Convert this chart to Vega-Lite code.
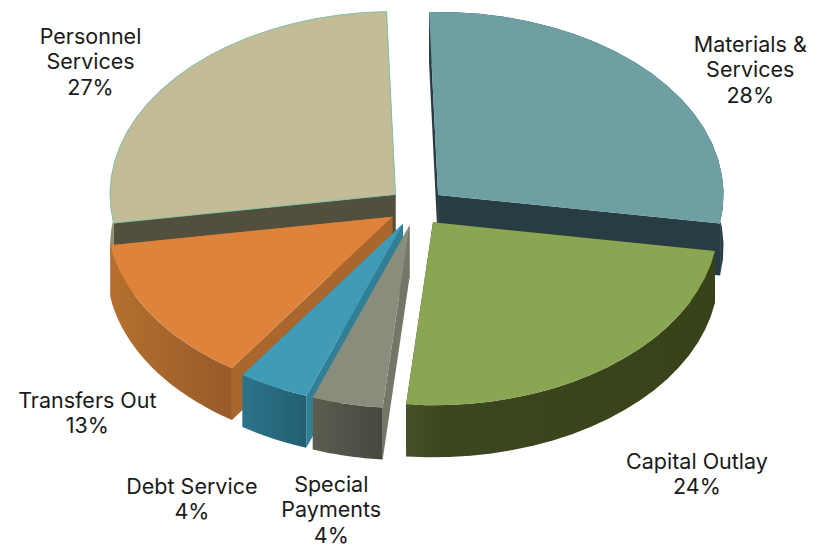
{
  "$schema": "https://vega.github.io/schema/vega-lite/v6.json",
  "width": 822,
  "height": 545,
  "padding": 0,
  "autosize": "none",
  "background": "#ffffff",
  "params": [
    {"name": "cx", "value": 416.5},
    {"name": "cy", "value": 207},
    {"name": "rx", "value": 285.5},
    {"name": "ry", "value": 183},
    {"name": "ex", "value": 28},
    {"name": "ey", "value": 19},
    {"name": "depth", "value": 52},
    {"name": "rot", "value": 1.8}
  ],
  "data": {
    "values": [
      {"name": "Materials &|Services", "share": 28},
      {"name": "Capital Outlay", "share": 24},
      {"name": "Special|Payments", "share": 4},
      {"name": "Debt Service", "share": 4},
      {"name": "Transfers Out", "share": 13},
      {"name": "Personnel|Services", "share": 27}
    ]
  },
  "transform": [
    {"window": [{"op": "sum", "field": "share", "as": "cum"}], "frame": [null, 0], "ignorePeers": true},
    {"calculate": "(datum.cum - datum.share) * 3.6 - rot", "as": "a0"},
    {"calculate": "datum.cum * 3.6 - rot", "as": "a1"},
    {"calculate": "(datum.cum - datum.share / 2) * 3.6 * PI / 180", "as": "mid"},
    {"calculate": "cx + ex * sin(datum.mid)", "as": "ax"},
    {"calculate": "cy - ey * cos(datum.mid)", "as": "ay"},
    {"calculate": "datum.ax + rx * sin(datum.mid - rot * PI / 180)", "as": "lx"},
    {"calculate": "datum.ay - ry * cos(datum.mid - rot * PI / 180)", "as": "ly"},
    {"calculate": "datum.name + '|' + datum.share + '%'", "as": "caption"},
    {"calculate": "[['wallA',0,0,0],['wallA',1,0,0],['wallA',1,0,1],['wallA',0,0,1],['wallB',0,1,0],['wallB',1,1,0],['wallB',1,1,1],['wallB',0,1,1],['outer',1,0,0],['outer',1,0.05,0],['outer',1,0.1,0],['outer',1,0.15,0],['outer',1,0.2,0],['outer',1,0.25,0],['outer',1,0.3,0],['outer',1,0.35,0],['outer',1,0.4,0],['outer',1,0.45,0],['outer',1,0.5,0],['outer',1,0.55,0],['outer',1,0.6,0],['outer',1,0.65,0],['outer',1,0.7,0],['outer',1,0.75,0],['outer',1,0.8,0],['outer',1,0.85,0],['outer',1,0.9,0],['outer',1,0.95,0],['outer',1,1,0],['outer',1,1,1],['outer',1,0.95,1],['outer',1,0.9,1],['outer',1,0.85,1],['outer',1,0.8,1],['outer',1,0.75,1],['outer',1,0.7,1],['outer',1,0.65,1],['outer',1,0.6,1],['outer',1,0.55,1],['outer',1,0.5,1],['outer',1,0.45,1],['outer',1,0.4,1],['outer',1,0.35,1],['outer',1,0.3,1],['outer',1,0.25,1],['outer',1,0.2,1],['outer',1,0.15,1],['outer',1,0.1,1],['outer',1,0.05,1],['outer',1,0,1],['top',0,0,0],['top',1,0,0],['top',1,0.05,0],['top',1,0.1,0],['top',1,0.15,0],['top',1,0.2,0],['top',1,0.25,0],['top',1,0.3,0],['top',1,0.35,0],['top',1,0.4,0],['top',1,0.45,0],['top',1,0.5,0],['top',1,0.55,0],['top',1,0.6,0],['top',1,0.65,0],['top',1,0.7,0],['top',1,0.75,0],['top',1,0.8,0],['top',1,0.85,0],['top',1,0.9,0],['top',1,0.95,0],['top',1,1,0]]", "as": "vert"},
    {"flatten": ["vert"]},
    {"window": [{"op": "row_number", "as": "seq"}], "ignorePeers": true},
    {"calculate": "datum.vert[0]", "as": "part"},
    {"calculate": "(datum.a0 + (datum.a1 - datum.a0) * datum.vert[2]) * PI / 180", "as": "ang"},
    {"calculate": "datum.ax + datum.vert[1] * rx * sin(datum.ang)", "as": "px"},
    {"calculate": "datum.ay - datum.vert[1] * ry * cos(datum.ang) + datum.vert[3] * depth", "as": "py"}
  ],
  "encoding": {
    "x": {"field": "px", "type": "quantitative", "axis": null, "scale": {"domain": [0, 822], "nice": false, "zero": false}},
    "y": {"field": "py", "type": "quantitative", "axis": null, "scale": {"domain": [545, 0], "nice": false, "zero": false}},
    "order": {"field": "seq", "type": "quantitative"},
    "detail": {"field": "part", "type": "nominal"}
  },
  "layer": [
    {"transform": [{"filter": "indexof(datum.name,'Materials')==0 && indexof(datum.part,'wall')==0"}], "mark": {"type": "line", "interpolate": "linear-closed", "fill": "#283c43", "stroke": null}},
    {"transform": [{"filter": "indexof(datum.name,'Materials')==0 && datum.part=='outer'"}], "mark": {"type": "line", "interpolate": "linear-closed", "fill": "#2a3f46", "stroke": null}},
    {"transform": [{"filter": "indexof(datum.name,'Materials')==0 && datum.part=='top'"}], "mark": {"type": "line", "interpolate": "linear-closed", "fill": "#6d9fa3", "stroke": null}},

    {"transform": [{"filter": "indexof(datum.name,'Personnel')==0 && indexof(datum.part,'wall')==0"}], "mark": {"type": "line", "interpolate": "linear-closed", "fill": "#534f3d", "stroke": null}},
    {"transform": [{"filter": "indexof(datum.name,'Personnel')==0 && datum.part=='outer'"}], "mark": {"type": "line", "interpolate": "linear-closed", "fill": "#8f8b6c", "stroke": null}},
    {"transform": [{"filter": "indexof(datum.name,'Personnel')==0 && datum.part=='top'"}], "mark": {"type": "line", "interpolate": "linear-closed", "fill": "#c4bc96", "stroke": "#7fc3a8", "strokeWidth": 1}},

    {"transform": [{"filter": "indexof(datum.name,'Capital')==0 && indexof(datum.part,'wall')==0"}], "mark": {"type": "line", "interpolate": "linear-closed", "fill": "#3a441e", "stroke": null}},
    {"transform": [{"filter": "indexof(datum.name,'Capital')==0 && datum.part=='outer'"}], "mark": {"type": "line", "interpolate": "linear-closed", "stroke": null, "fill": {"gradient": "linear", "x1": 0, "x2": 1, "y1": 0, "y2": 0, "stops": [{"offset": 0, "color": "#45512a"}, {"offset": 0.12, "color": "#3c471f"}, {"offset": 1, "color": "#384219"}]}}},
    {"transform": [{"filter": "indexof(datum.name,'Capital')==0 && datum.part=='top'"}], "mark": {"type": "line", "interpolate": "linear-closed", "fill": "#8aa652", "stroke": null}},

    {"transform": [{"filter": "indexof(datum.name,'Transfers')==0 && indexof(datum.part,'wall')==0"}], "mark": {"type": "line", "interpolate": "linear-closed", "fill": "#a9672d", "stroke": null}},
    {"transform": [{"filter": "indexof(datum.name,'Transfers')==0 && datum.part=='outer'"}], "mark": {"type": "line", "interpolate": "linear-closed", "stroke": null, "fill": {"gradient": "linear", "x1": 0, "x2": 1, "y1": 0, "y2": 0, "stops": [{"offset": 0, "color": "#b5702f"}, {"offset": 1, "color": "#985a28"}]}}},
    {"transform": [{"filter": "indexof(datum.name,'Transfers')==0 && datum.part=='top'"}], "mark": {"type": "line", "interpolate": "linear-closed", "fill": "#dd833b", "stroke": null}},

    {"transform": [{"filter": "indexof(datum.name,'Debt')==0 && indexof(datum.part,'wall')==0"}], "mark": {"type": "line", "interpolate": "linear-closed", "fill": "#317f97", "stroke": null}},
    {"transform": [{"filter": "indexof(datum.name,'Debt')==0 && datum.part=='outer'"}], "mark": {"type": "line", "interpolate": "linear-closed", "stroke": null, "fill": {"gradient": "linear", "x1": 0, "x2": 1, "y1": 0, "y2": 0, "stops": [{"offset": 0, "color": "#2d7389"}, {"offset": 1, "color": "#235f72"}]}}},
    {"transform": [{"filter": "indexof(datum.name,'Debt')==0 && datum.part=='top'"}], "mark": {"type": "line", "interpolate": "linear-closed", "fill": "#409bb6", "stroke": null}},

    {"transform": [{"filter": "indexof(datum.name,'Special')==0 && indexof(datum.part,'wall')==0"}], "mark": {"type": "line", "interpolate": "linear-closed", "fill": "#747768", "stroke": null}},
    {"transform": [{"filter": "indexof(datum.name,'Special')==0 && datum.part=='outer'"}], "mark": {"type": "line", "interpolate": "linear-closed", "stroke": null, "fill": {"gradient": "linear", "x1": 0, "x2": 1, "y1": 0, "y2": 0, "stops": [{"offset": 0, "color": "#5c5d51"}, {"offset": 1, "color": "#47473e"}]}}},
    {"transform": [{"filter": "indexof(datum.name,'Special')==0 && datum.part=='top'"}], "mark": {"type": "line", "interpolate": "linear-closed", "fill": "#898d7c", "stroke": null}},

    {"transform": [{"filter": "indexof(datum.name,'Materials')==0 && datum.part=='top' && datum.vert[1]==0"}], "mark": {"type": "text", "font": "Inter", "fontSize": 21.5, "lineBreak": "|", "lineHeight": 25.5, "baseline": "middle", "align": "center", "color": "#1a1a1a", "dx": 98, "dy": -28}, "encoding": {"x": {"field": "lx", "type": "quantitative"}, "y": {"field": "ly", "type": "quantitative"}, "text": {"field": "caption"}}},
    {"transform": [{"filter": "indexof(datum.name,'Capital')==0 && datum.part=='top' && datum.vert[1]==0"}], "mark": {"type": "text", "font": "Inter", "fontSize": 21.5, "lineBreak": "|", "lineHeight": 25.5, "baseline": "middle", "align": "center", "color": "#1a1a1a", "dx": 89, "dy": 96}, "encoding": {"x": {"field": "lx", "type": "quantitative"}, "y": {"field": "ly", "type": "quantitative"}, "text": {"field": "caption"}}},
    {"transform": [{"filter": "indexof(datum.name,'Special')==0 && datum.part=='top' && datum.vert[1]==0"}], "mark": {"type": "text", "font": "Inter", "fontSize": 21.5, "lineBreak": "|", "lineHeight": 25.5, "baseline": "middle", "align": "center", "color": "#1a1a1a", "dx": -16, "dy": 82}, "encoding": {"x": {"field": "lx", "type": "quantitative"}, "y": {"field": "ly", "type": "quantitative"}, "text": {"field": "caption"}}},
    {"transform": [{"filter": "indexof(datum.name,'Debt')==0 && datum.part=='top' && datum.vert[1]==0"}], "mark": {"type": "text", "font": "Inter", "fontSize": 21.5, "lineBreak": "|", "lineHeight": 25.5, "baseline": "middle", "align": "center", "color": "#1a1a1a", "dx": -81.5, "dy": 101}, "encoding": {"x": {"field": "lx", "type": "quantitative"}, "y": {"field": "ly", "type": "quantitative"}, "text": {"field": "caption"}}},
    {"transform": [{"filter": "indexof(datum.name,'Transfers')==0 && datum.part=='top' && datum.vert[1]==0"}], "mark": {"type": "text", "font": "Inter", "fontSize": 21.5, "lineBreak": "|", "lineHeight": 25.5, "baseline": "middle", "align": "center", "color": "#1a1a1a", "dx": -64, "dy": 87}, "encoding": {"x": {"field": "lx", "type": "quantitative"}, "y": {"field": "ly", "type": "quantitative"}, "text": {"field": "caption"}}},
    {"transform": [{"filter": "indexof(datum.name,'Personnel')==0 && datum.part=='top' && datum.vert[1]==0"}], "mark": {"type": "text", "font": "Inter", "fontSize": 21.5, "lineBreak": "|", "lineHeight": 25.5, "baseline": "middle", "align": "center", "color": "#1a1a1a", "dx": -85, "dy": -40}, "encoding": {"x": {"field": "lx", "type": "quantitative"}, "y": {"field": "ly", "type": "quantitative"}, "text": {"field": "caption"}}}
  ],
  "config": {"view": {"stroke": null}}
}
